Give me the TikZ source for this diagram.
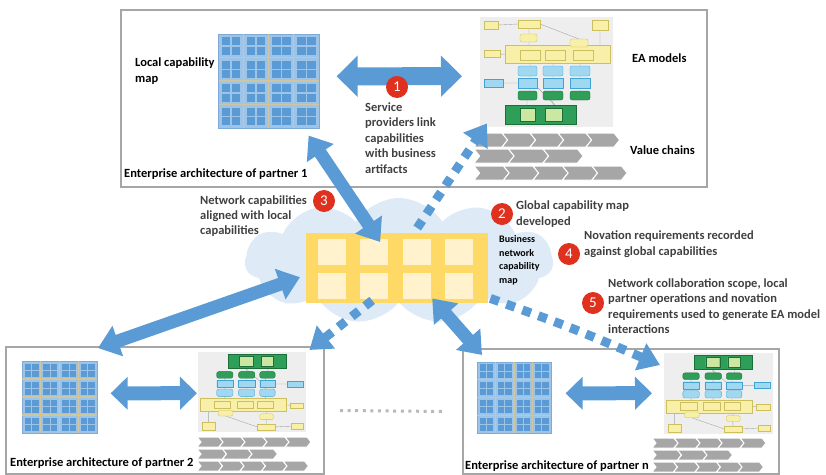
\documentclass[tikz,border=0pt]{standalone}
\usepackage{fontspec}
\setmainfont{Carlito}
\usetikzlibrary{arrows.meta,shapes.symbols}
\definecolor{boxGray}{HTML}{A6A6A6}
\definecolor{noteGray}{HTML}{404040}
\definecolor{badgeRed}{HTML}{E0301E}
\definecolor{arrowBlue}{HTML}{5B9BD5}
\definecolor{cloudBlue}{HTML}{DEEBF7}
\definecolor{capYellow}{HTML}{FFD966}
\definecolor{capCell}{HTML}{FFF2CC}
\definecolor{mapBlue}{HTML}{9DC3E6}
\definecolor{mapEdge}{HTML}{7FAAD8}
\definecolor{mapSq}{HTML}{5B9BD5}
\definecolor{mapLine}{HTML}{CFC6A0}
\definecolor{eaBg}{HTML}{EEEEEE}
\definecolor{eaYellow}{HTML}{F8F0A8}
\definecolor{eaYellowEdge}{HTML}{CDBF5E}
\definecolor{eaBlue}{HTML}{9FD8F0}
\definecolor{eaBlueEdge}{HTML}{3FA4D4}
\definecolor{eaGreen}{HTML}{2E9E59}
\definecolor{eaGreenEdge}{HTML}{1B6E37}
\definecolor{eaLight}{HTML}{CBE7A2}
\definecolor{chevGray}{HTML}{A6A6A6}
% capability map: name, left, top, width, height
\newcommand{\capmap}[5]{%
\node[inner sep=0, anchor=north west, minimum width=#4pt, minimum height=#5pt, fill=mapBlue, draw=mapEdge, line width=0.6pt] (#1) at (#2,#3) {};
\begin{scope}[shift={(#2,#3)}, xscale=#4/100, yscale=#5/100]
\foreach \ci in {0,...,3}{\foreach \cj in {0,...,3}{\foreach \si in {0,1}{\foreach \sj in {0,1}{
 \fill[mapSq] ({25*\ci+3.5+10*\si},{25*\cj+3.5+10*\sj}) rectangle ++(8.5,8.5);}}}}
\foreach \k in {25,50,75}{
 \draw[mapLine, line width=1.1pt] (\k,0.5) -- (\k,99.5);
 \draw[mapLine, line width=1.1pt] (0.5,\k) -- (99.5,\k);}
\end{scope}}
% EA model thumbnail: name, left, top, width, height, turned (0/1)
\newcommand{\eamodel}[6]{%
\node[inner sep=0, anchor=north west, minimum width=#4pt, minimum height=#5pt, fill=eaBg] (#1) at (#2,#3) {};
\ifnum#6=0
 \begin{scope}[shift={(#2,#3)}, xscale=#4/133, yscale=#5/110]
\else
 \begin{scope}[shift={(#2+#4,#3+#5)}, xscale=-#4/133, yscale=-#5/110]
\fi
\draw[gray!70, line width=0.4pt] (18,8) -- (38,7) (60,7) -- (99,22) (49,11) -- (49,33) (120,13) -- (120,28)
 (20,37) -- (40,38) (60,38) -- (65,38) (85,38) -- (93,38) (50,43) -- (50,74) (73,43) -- (73,74) (100,43) -- (100,74)
 (23,66) -- (38,66) (57,70) -- (75,88) (47,83) -- (47,88) (73,83) -- (73,88);
\begin{scope}[fill=eaYellow, draw=eaYellowEdge, line width=0.3pt]
\filldraw (25,28) rectangle (130,46);
\filldraw (4,4) rectangle (18,12) (38,3) rectangle (60,11) (112,3) rectangle (128,13) (4,33) rectangle (20,40);
\filldraw (40,33) rectangle (60,43) (65,33) rectangle (85,43) (93,33) rectangle (113,43);
\filldraw[rounded corners=2pt] (40,17) rectangle (57,25) (90,22) rectangle (108,30);
\end{scope}
\begin{scope}[fill=eaBlue, draw=eaBlueEdge, line width=0.3pt]
\filldraw[rounded corners=2pt] (38,49) rectangle (57,59) (63,49) rectangle (83,59) (90,49) rectangle (110,59);
\filldraw (4,62) rectangle (23,70) (38,61) rectangle (57,71) (63,61) rectangle (83,71) (90,61) rectangle (110,71);
\end{scope}
\begin{scope}[fill=eaGreen, draw=eaGreenEdge, line width=0.3pt]
\filldraw[rounded corners=2pt] (38,74) rectangle (57,83) (63,74) rectangle (83,83) (90,74) rectangle (110,83);
\filldraw (25,88) rectangle (96,107);
\filldraw[fill=eaLight] (40,91) rectangle (55,104) (65,91) rectangle (82,104);
\end{scope}
\end{scope}}
% value chain row: left, top, count, width, height
\newcommand{\chevrons}[5]{%
\foreach \c in {1,...,#3}
 \filldraw[fill=chevGray, draw=white, line width=1pt] ({#1+(\c-1)*#4},#2) -- ++(#4,0) -- ++({0.4*#5},{#5/2}) -- ++({-0.4*#5},{#5/2}) -- ++(-#4,0) -- ++({0.4*#5},{-#5/2}) -- cycle;}

\begin{document}
\begin{tikzpicture}[x=1pt, y=-1pt,
 frame/.style={draw=boxGray, line width=2pt, inner sep=0, anchor=north west},
 note/.style={font=\fontsize{12.5}{15.5}\selectfont\bfseries, text=noteGray, align=left, inner sep=0, anchor=base west},
 caption/.style={note, text=black},
 badge/.style={circle, fill=badgeRed, text=white, minimum size=22pt, inner sep=0, font=\fontsize{15}{15}\selectfont},
 bigarrow/.style={draw=arrowBlue, line width=18pt, {Triangle[length=21pt,width=40pt]}-{Triangle[length=21pt,width=40pt]}},
 linkarrow/.style={draw=arrowBlue, line width=13pt, {Triangle[length=21pt,width=31pt]}-{Triangle[length=21pt,width=31pt]}},
 smallarrow/.style={draw=arrowBlue, line width=14pt, {Triangle[length=17pt,width=32pt]}-{Triangle[length=17pt,width=32pt]}},
 dotarrow/.style={draw=arrowBlue, line width=9pt, dash pattern=on 9pt off 8pt, -{Triangle[length=21pt,width=28pt]}}]
\useasboundingbox (0,0) rectangle (826,474);

\node[frame, minimum width=586pt, minimum height=177pt] (part1) at (120,9) {};
\node[frame, minimum width=318pt, minimum height=127pt] (part2) at (5,346) {};
\node[frame, minimum width=316pt, minimum height=125pt] (part3) at (462,348) {};

\node[cloud, cloud puffs=11, cloud puff arc=115, aspect=2.5, fill=cloudBlue, minimum width=308pt, minimum height=126pt, inner sep=0] (cloud) at (399,261) {};
\node[inner sep=0, anchor=north west, minimum width=182pt, minimum height=70pt, fill=capYellow] (netmap) at (306,233) {};
\foreach \r in {0,1}{\foreach \c in {0,...,3}{
 \fill[capCell] ([shift={({12+42.3*\c},{6+34*\r})}]netmap.north west) rectangle ++(28,26);}}

\capmap{map1}{218}{34}{101}{94}
\capmap{map2}{22}{361}{75}{72}
\capmap{map3}{477}{362}{74}{71}

\eamodel{ea1}{480}{17}{133}{110}{0}
\eamodel{ea2}{198}{352}{108}{80}{1}
\eamodel{ea3}{664}{353}{109}{81}{1}

\chevrons{474}{133}{5}{28}{14}
\chevrons{474}{149}{3}{34.5}{14}
\chevrons{474}{166}{5}{29.5}{14}
\chevrons{197}{437}{5}{22}{10}
\chevrons{197}{449}{3}{25.5}{10}
\chevrons{197}{461}{5}{21.5}{10}
\chevrons{652}{438}{5}{22}{10}
\chevrons{652}{450}{3}{25.5}{10}
\chevrons{652}{462}{5}{21.5}{10}

\node[caption, font=\fontsize{12.5}{16}\selectfont\bfseries] (maplabel) at (135,82) {Local capability\\map};
\node[caption] (ealabel) at (632,62) {EA models};
\node[caption] (vclabel) at (630,154) {Value chains};
\node[caption] (part1label) at (124,177) {Enterprise architecture of partner 1};
\node[caption] (part2label) at (10,466) {Enterprise architecture of partner 2};
\node[caption] (part3label) at (465,469) {Enterprise architecture of partner n};
\node[caption, font=\fontsize{10}{13.4}\selectfont\bfseries] (netlabel) at (499,283) {Business\\network\\capability\\map};

\node[note] (linknote) at (365,173) {Service\\providers link\\capabilities\\with business\\artifacts};
\node[note, font=\fontsize{12.5}{15}\selectfont\bfseries] (alignnote) at (200,234) {Network capabilities\\aligned with local\\capabilities};
\node[note, font=\fontsize{12.5}{16}\selectfont\bfseries] (globalnote) at (516,225) {Global capability map\\developed};
\node[note, font=\fontsize{12.5}{16}\selectfont\bfseries] (novnote) at (584,255) {Novation requirements recorded\\against global capabilities};
\node[note] (scopenote) at (608,333.5) {Network collaboration scope, local\\partner operations and novation\\requirements used to generate EA model\\interactions};

\draw[bigarrow] ([shift={(17,-5)}]map1.east) -- ([shift={(-18,4)}]ea1.west);
\draw[linkarrow] ([shift={(-11,7)}]map1.south east) -- ([shift={(-17,9)}]netmap.north);
\draw[linkarrow] ([shift={(-6,9)}]netmap.west) -- ([shift={(93,2)}]part2.north west);
\draw[linkarrow] ([shift={(35,-5)}]netmap.south) -- ([shift={(5,-7)}]map3.north west);
\draw[smallarrow] ([shift={(13,-4)}]map2.east) -- ([shift={(-1,1)}]ea2.west);
\draw[smallarrow] ([shift={(14,-4.5)}]map3.east) -- ([shift={(-12,-0.5)}]ea3.west);
\draw[dotarrow] ([shift={(20,-5)}]netmap.north) -- ([shift={(7,-4)}]ea1.south west);
\draw[dotarrow] ([shift={(-25,-3)}]netmap.south) -- ([shift={(3,-2)}]ea2.north east);
\draw[dotarrow] ([shift={(2,-5)}]netmap.south east) .. controls (570,327) .. ([shift={(-4,12)}]ea3.north west);
\draw[gray!55, line width=3pt, dash pattern=on 3pt off 4.6pt] ([xshift=15pt]part2.east) -- ([xshift=-17pt]part3.west);

\node[badge] (b1) at (397,87) {1};
\node[badge] (b2) at (502,214) {2};
\node[badge] (b3) at (324,201) {3};
\node[badge] (b4) at (569,254) {4};
\node[badge] (b5) at (593,303) {5};
\end{tikzpicture}
\end{document}
